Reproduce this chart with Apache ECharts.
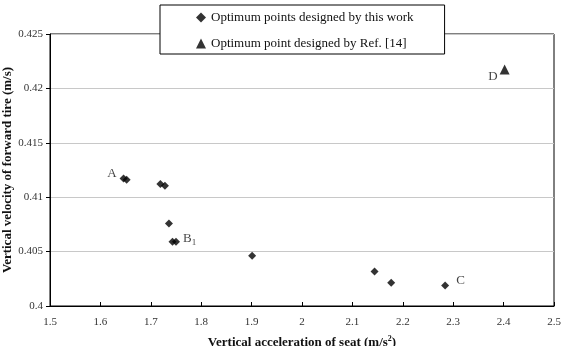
<!DOCTYPE html>
<html>
<head>
<meta charset="utf-8">
<script src="https://cdn.jsdelivr.net/npm/echarts@6/dist/echarts.min.js"></script>
<style>
  html, body { margin: 0; padding: 0; background: #fff; }
  #chart { width: 562px; height: 346px; }
</style>
</head>
<body>
<div id="chart"></div>
<script>
// acceleration of seat (m/s^2), velocity of forward tire (m/s)
const thisWorkX = [1.646, 1.652, 1.719, 1.728, 1.736, 1.743, 1.750, 1.901, 2.144, 2.177, 2.284]
const thisWorkY = [0.41171, 0.41161, 0.41122, 0.41106, 0.40758, 0.4059, 0.4059, 0.40461, 0.40318, 0.40214, 0.40189]
const refX = [2.402]
const refY = [0.42173]
// point index -> letter shown next to it
const pointLabels = { 0: 'A', 6: 'B1', 10: 'C' }
const refLabel = 'D'

const font = 'Liberation Serif'

const chart = echarts.init(document.getElementById('chart'))

const workData = thisWorkX.map((x, i) => {
  const item = { value: [x, thisWorkY[i]] }
  const name = pointLabels[i]
  if (name === 'A') {
    item.label = { show: true, formatter: 'A', position: 'left', offset: [2, -5] }
  } else if (name === 'B1') {
    item.label = { show: true, formatter: '{b|B}{s|1}', position: 'right', offset: [-2, -3] }
  } else if (name === 'C') {
    item.label = { show: true, formatter: 'C', position: 'right', offset: [2, -5] }
  }
  return item
})

const refData = refX.map((x, i) => ({
  value: [x, refY[i]],
  label: { show: true, formatter: refLabel, position: 'left', offset: [3, 7] }
}))

const labelStyle = {
  fontFamily: font,
  fontSize: 13,
  color: '#111',
  rich: {
    b: { fontFamily: font, fontSize: 13, color: '#111' },
    s: { fontFamily: font, fontSize: 9, color: '#111', padding: [7, 0, 0, 0] }
  }
}

chart.setOption({
  animation: false,
  grid: {
    left: 50,
    right: 8,
    top: 34,
    bottom: 40,
    outerBoundsMode: 'none',
    containLabel: false,
    show: true,
    borderColor: '#000',
    borderWidth: 1
  },
  legend: {
    orient: 'vertical',
    left: 160,
    top: 5,
    padding: [6, 31, 4, 36],
    itemWidth: 10,
    itemHeight: 10,
    itemGap: 13,
    backgroundColor: '#fff',
    borderColor: '#000',
    borderWidth: 1,
    textStyle: { fontFamily: font, fontSize: 13, color: '#111' },
    data: ['Optimum points designed by this work', 'Optimum point designed by Ref. [14]']
  },
  xAxis: {
    type: 'value',
    min: 1.5,
    max: 2.5,
    interval: 0.1,
    name: 'Vertical acceleration of seat (m/s{sup|2})',
    nameLocation: 'middle',
    nameGap: 29,
    nameMoveOverlap: false,
    nameTextStyle: {
      fontFamily: font,
      fontSize: 13,
      fontWeight: 'bold',
      color: '#111',
      rich: {
        sup: { fontFamily: font, fontSize: 8, fontWeight: 'bold', color: '#111', padding: [0, 0, 8, 0] }
      }
    },
    axisLine: { lineStyle: { color: '#000' } },
    axisTick: { show: true, inside: true, length: 4, lineStyle: { color: '#000' } },
    axisLabel: { fontFamily: font, fontSize: 11, color: '#333', margin: 11 },
    splitLine: { show: false }
  },
  yAxis: {
    type: 'value',
    min: 0.4,
    max: 0.425,
    interval: 0.005,
    name: 'Vertical velocity of forward tire (m/s)',
    nameLocation: 'middle',
    nameGap: 36,
    nameMoveOverlap: false,
    nameTextStyle: { fontFamily: font, fontSize: 13, fontWeight: 'bold', color: '#111' },
    axisLine: { show: true, lineStyle: { color: '#000' } },
    axisTick: { show: true, length: 4, lineStyle: { color: '#000' } },
    axisLabel: {
      fontFamily: font,
      fontSize: 11,
      color: '#333',
      margin: 7,
      formatter: v => String(+v.toFixed(3))
    },
    splitLine: { show: true, lineStyle: { color: '#c8c8c8', width: 1 } }
  },
  series: [
    {
      name: 'Optimum points designed by this work',
      type: 'scatter',
      symbol: 'diamond',
      symbolSize: 8,
      itemStyle: { color: '#000' },
      label: labelStyle,
      data: workData
    },
    {
      name: 'Optimum point designed by Ref. [14]',
      type: 'scatter',
      symbol: 'triangle',
      symbolSize: 10,
      itemStyle: { color: '#000' },
      label: labelStyle,
      data: refData
    }
  ]
})
</script>
</body>
</html>
